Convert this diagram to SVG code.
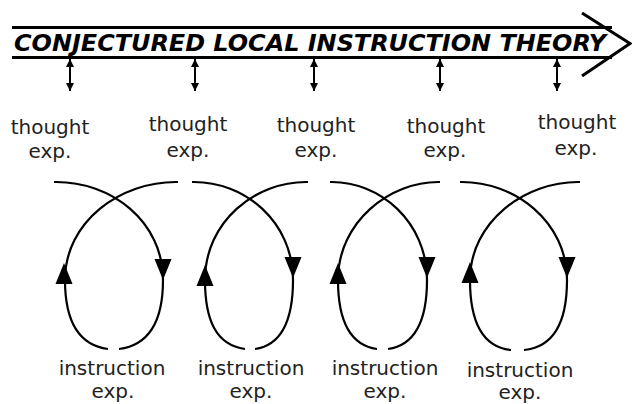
<svg xmlns="http://www.w3.org/2000/svg" xmlns:xlink="http://www.w3.org/1999/xlink" width="632" height="404" viewBox="0 0 632 404">
<style>
.title{font-family:"DejaVu Sans",Verdana,sans-serif;font-weight:bold;font-style:italic;font-size:23.5px;fill:#000}
.lbl{font-family:"DejaVu Sans",Verdana,sans-serif;font-size:20px;fill:#222;text-anchor:middle}
.bar{stroke:#000;stroke-width:3;fill:none}
.dbl{stroke:#000;stroke-width:2;fill:none;marker-start:url(#hs);marker-end:url(#he)}
.loop{stroke:#000;stroke-width:2.2;fill:none}
.tri{fill:#000}
</style>
<defs>
<marker id="he" markerUnits="userSpaceOnUse" markerWidth="10" markerHeight="10" viewBox="0 0 10 10" refX="9" refY="5" orient="auto"><path d="M1,1 L9,5 L1,9 Z" fill="#000"/></marker>
<marker id="hs" markerUnits="userSpaceOnUse" markerWidth="10" markerHeight="10" viewBox="0 0 10 10" refX="1" refY="5" orient="auto"><path d="M9,1 L1,5 L9,9 Z" fill="#000"/></marker>
<path id="dn" d="M-8.5,0 L8.5,0 L0,21 Z"/>
<path id="up" d="M-8.5,21 L8.5,21 L0,0 Z"/>
</defs>

<g id="theory-arrow">
<line class="bar" x1="12" y1="27.5" x2="612" y2="27.5"/>
<line class="bar" x1="12" y1="57.5" x2="612" y2="57.5"/>
<polyline class="bar" points="582,13 630,43.5 582,76"/>
<text class="title" x="14" y="51" textLength="592" lengthAdjust="spacingAndGlyphs">CONJECTURED LOCAL INSTRUCTION THEORY</text>
</g>

<g id="connectors">
<line class="dbl" x1="70" y1="59" x2="70" y2="91"/>
<line class="dbl" x1="195" y1="59" x2="195" y2="91"/>
<line class="dbl" x1="314" y1="59" x2="314" y2="91"/>
<line class="dbl" x1="440" y1="59" x2="440" y2="91"/>
<line class="dbl" x1="557" y1="59" x2="557" y2="91"/>
</g>

<g id="thought1"><text class="lbl" x="50" y="134">thought</text><text class="lbl" x="50" y="158">exp.</text></g>
<g id="thought2"><text class="lbl" x="188" y="131">thought</text><text class="lbl" x="188" y="157">exp.</text></g>
<g id="thought3"><text class="lbl" x="316" y="132">thought</text><text class="lbl" x="316" y="157">exp.</text></g>
<g id="thought4"><text class="lbl" x="446" y="133">thought</text><text class="lbl" x="445" y="157">exp.</text></g>
<g id="thought5"><text class="lbl" x="577" y="129">thought</text><text class="lbl" x="576" y="155">exp.</text></g>

<g id="cycle1">
<path class="loop" d="M54,182 C112,181 163,222 163,280 C163,320 150,345 119,349"/>
<path class="loop" d="M178,182 C120,181 65,222 65,280 C65,320 78,345 108,349"/>
<use href="#dn" xlink:href="#dn" x="163" y="259" class="tri"/>
<use href="#up" xlink:href="#up" x="64" y="263" class="tri"/>
<text class="lbl" x="112" y="375">instruction</text><text class="lbl" x="113" y="398">exp.</text>
</g>

<g id="cycle2">
<path class="loop" d="M192,182 C245,181 293,222 293,280 C293,320 282,345 255,349"/>
<path class="loop" d="M308,182 C255,181 205,222 205,280 C205,320 216,345 245,349"/>
<use href="#dn" xlink:href="#dn" x="293" y="257" class="tri"/>
<use href="#up" xlink:href="#up" x="205" y="265" class="tri"/>
<text class="lbl" x="251" y="375">instruction</text><text class="lbl" x="251" y="398">exp.</text>
</g>

<g id="cycle3">
<path class="loop" d="M330,182 C380,181 427,222 427,280 C427,320 416,345 388,349"/>
<path class="loop" d="M440,182 C390,181 338,222 338,280 C338,320 349,345 377,349"/>
<use href="#dn" xlink:href="#dn" x="427" y="257" class="tri"/>
<use href="#up" xlink:href="#up" x="338" y="263" class="tri"/>
<text class="lbl" x="385" y="375">instruction</text><text class="lbl" x="385" y="398">exp.</text>
</g>

<g id="cycle4">
<path class="loop" d="M460,182 C515,181 567,222 567,280 C567,320 555,347 524,350"/>
<path class="loop" d="M580,182 C525,181 470,222 470,280 C470,320 482,347 511,350"/>
<use href="#dn" xlink:href="#dn" x="567" y="257" class="tri"/>
<use href="#up" xlink:href="#up" x="470" y="262" class="tri"/>
<text class="lbl" x="520" y="377">instruction</text><text class="lbl" x="520" y="399">exp.</text>
</g>
</svg>
